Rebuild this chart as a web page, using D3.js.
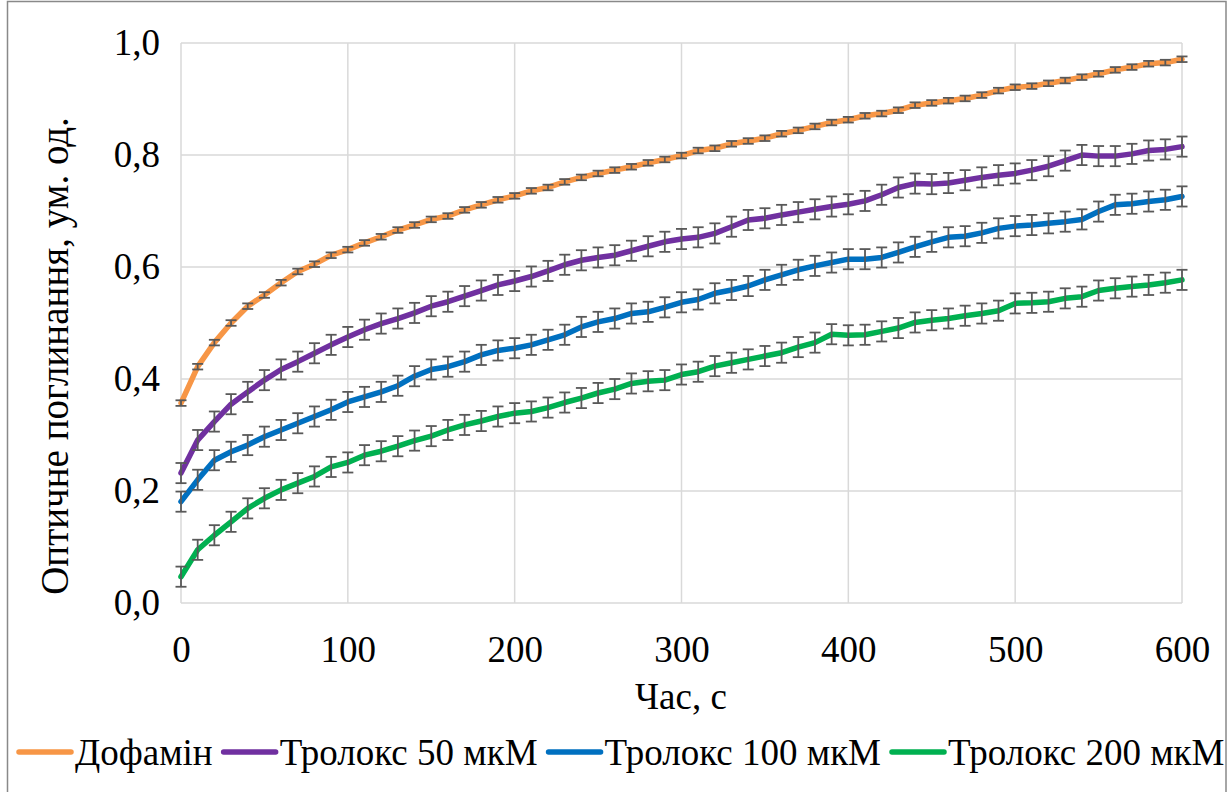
<!DOCTYPE html>
<html>
<head>
<meta charset="utf-8">
<script src="https://cdn.jsdelivr.net/npm/d3@7"></script>
<style>
  html, body { margin: 0; padding: 0; background: #ffffff; }
  svg { display: block; }
  text { font-family: "Liberation Serif", "Times New Roman", serif !important; fill: #000; }
</style>
</head>
<body>
<svg id="chart" width="1229" height="792"></svg>
<script>
// Time points, s
const times = d3.range(0, 601, 10);

// Optical absorbance (arb. units) per series
const dopamine = [0.357,0.422,0.465,0.500,0.530,0.550,0.572,0.592,0.605,0.621,0.631,
  0.643,0.654,0.666,0.675,0.685,0.691,0.702,0.711,0.720,0.727,
  0.736,0.742,0.752,0.760,0.767,0.773,0.779,0.786,0.792,0.799,
  0.808,0.812,0.820,0.825,0.830,0.838,0.844,0.851,0.858,0.863,
  0.870,0.874,0.880,0.889,0.893,0.897,0.901,0.907,0.915,0.921,
  0.923,0.928,0.933,0.939,0.945,0.952,0.957,0.963,0.965,0.971];

const trolox50 = [0.232,0.291,0.324,0.355,0.377,0.398,0.417,0.431,0.446,0.461,0.475,
  0.488,0.499,0.508,0.518,0.530,0.538,0.548,0.558,0.568,0.575,
  0.583,0.593,0.604,0.612,0.617,0.621,0.629,0.637,0.645,0.650,
  0.653,0.660,0.672,0.684,0.687,0.693,0.698,0.703,0.708,0.712,
  0.718,0.729,0.742,0.749,0.748,0.750,0.755,0.760,0.764,0.767,
  0.773,0.780,0.790,0.800,0.798,0.798,0.802,0.808,0.810,0.815];

const trolox100 = [0.181,0.220,0.255,0.270,0.282,0.297,0.309,0.321,0.333,0.345,0.359,
  0.368,0.377,0.388,0.405,0.417,0.422,0.431,0.443,0.451,0.455,
  0.461,0.470,0.479,0.493,0.502,0.508,0.517,0.520,0.528,0.537,
  0.542,0.553,0.559,0.566,0.577,0.586,0.595,0.602,0.608,0.614,
  0.614,0.617,0.626,0.636,0.645,0.653,0.655,0.661,0.669,0.673,
  0.675,0.678,0.681,0.685,0.699,0.711,0.713,0.717,0.720,0.726];

const trolox200 = [0.047,0.095,0.121,0.145,0.169,0.187,0.202,0.214,0.226,0.243,0.251,
  0.264,0.271,0.280,0.290,0.298,0.309,0.318,0.325,0.333,0.339,
  0.342,0.349,0.358,0.366,0.375,0.382,0.392,0.396,0.398,0.408,
  0.413,0.423,0.429,0.435,0.441,0.447,0.457,0.465,0.480,0.478,
  0.479,0.485,0.491,0.501,0.505,0.508,0.513,0.517,0.522,0.535,
  0.536,0.538,0.544,0.547,0.558,0.562,0.565,0.568,0.572,0.577];

// Error bar half-widths per series
const seriesErrors = [0.005, 0.018, 0.018, 0.018];

const seriesNames = ["Дофамін", "Тролокс 50 мкМ", "Тролокс 100 мкМ", "Тролокс 200 мкМ"];
const seriesColors = ["#F79646", "#7030A0", "#0070C0", "#00B050"];
const seriesValues = [dopamine, trolox50, trolox100, trolox200];

const xTicks = [0, 100, 200, 300, 400, 500, 600];
const yTicks = [0, 0.2, 0.4, 0.6, 0.8, 1.0];

const xTitle = "Час, с";
const yTitle = "Оптичне поглинання, ум. од.";

const FONT = "Liberation Serif";
const FS = 37;

const svg = d3.select("#chart");
const H = 792;

// outer chart frame
svg.append("rect")
  .attr("x", 7.5).attr("y", 1.5)
  .attr("width", 1226 - 7.5).attr("height", H + 10)
  .attr("fill", "#fff").attr("stroke", "#898989").attr("stroke-width", 1.5);

const x = d3.scaleLinear().domain([0, 600]).range([181, 1182]);
const y = d3.scaleLinear().domain([0, 1]).range([603, 43]);

const fmt = v => d3.format(".1f")(v).replace(".", ",");

// gridlines
const grid = svg.append("g");
grid.selectAll("line.h").data(yTicks).join("line")
  .attr("x1", x(0)).attr("x2", x(600))
  .attr("y1", d => y(d)).attr("y2", d => y(d))
  .attr("stroke", "#d9d9d9").attr("stroke-width", 1.5);
grid.selectAll("line.v").data(xTicks).join("line")
  .attr("y1", y(0)).attr("y2", y(1))
  .attr("x1", d => x(d)).attr("x2", d => x(d))
  .attr("stroke", "#d9d9d9").attr("stroke-width", 1.5);

// axes (labels only; the lines come from the grid)
const yAxis = d3.axisLeft(y).tickValues(yTicks).tickFormat(fmt).tickSize(0).tickPadding(21);
const yg = svg.append("g").attr("transform", `translate(${x(0)},0)`).call(yAxis);
yg.select(".domain").remove();
yg.attr("font-family", FONT).attr("font-size", FS);
yg.selectAll("text").style("font-family", FONT).style("font-size", FS + "px").attr("fill", "#000");

const xAxis = d3.axisBottom(x).tickValues(xTicks).tickFormat(d3.format("d")).tickSize(0).tickPadding(33);
const xg = svg.append("g").attr("transform", `translate(0,${y(0)})`).call(xAxis);
xg.select(".domain").remove();
xg.attr("font-family", FONT).attr("font-size", FS);
xg.selectAll("text").style("font-family", FONT).style("font-size", FS + "px").attr("fill", "#000");

// axis titles
svg.append("text")
  .attr("x", 681).attr("y", 709)
  .attr("text-anchor", "middle")
  .style("font-family", FONT).style("font-size", FS + "px")
  .text(xTitle);
svg.append("text")
  .attr("transform", "translate(68,356) rotate(-90)")
  .attr("text-anchor", "middle")
  .style("font-family", FONT).style("font-size", "39px")
  .text(yTitle);

// series lines with error bars
const line = d3.line().x((d, i) => x(times[i])).y(d => y(d));
seriesValues.forEach((vals, s) => {
  const g = svg.append("g");
  g.append("path").datum(vals)
    .attr("d", line)
    .attr("fill", "none")
    .attr("stroke", seriesColors[s])
    .attr("stroke-width", 5.5)
    .attr("stroke-linejoin", "round")
    .attr("stroke-linecap", "round");
  const e = seriesErrors[s];
  const eb = g.append("g").attr("stroke", "#595959").attr("stroke-width", 1.8);
  const pts = vals.map((v, i) => ({ t: times[i], v }));
  eb.selectAll("line.bar").data(pts).join("line")
    .attr("x1", d => x(d.t)).attr("x2", d => x(d.t))
    .attr("y1", d => y(d.v - e)).attr("y2", d => y(d.v + e));
  eb.selectAll("line.capt").data(pts).join("line")
    .attr("x1", d => x(d.t) - 5.5).attr("x2", d => x(d.t) + 5.5)
    .attr("y1", d => y(d.v + e)).attr("y2", d => y(d.v + e));
  eb.selectAll("line.capb").data(pts).join("line")
    .attr("x1", d => x(d.t) - 5.5).attr("x2", d => x(d.t) + 5.5)
    .attr("y1", d => y(d.v - e)).attr("y2", d => y(d.v - e));
});

// legend
const legend = svg.append("g");
let lx = 17;
const ly = 752;
seriesNames.forEach((name, s) => {
  legend.append("line")
    .attr("x1", lx + 2).attr("x2", lx + 54)
    .attr("y1", ly).attr("y2", ly)
    .attr("stroke", seriesColors[s]).attr("stroke-width", 5.5)
    .attr("stroke-linecap", "round");
  const t = legend.append("text")
    .attr("x", lx + 58).attr("y", ly + 13)
    .style("font-family", FONT).style("font-size", FS + "px")
    .text(name);
  lx += 58 + t.node().getComputedTextLength() + 9;
});
</script>
</body>
</html>
